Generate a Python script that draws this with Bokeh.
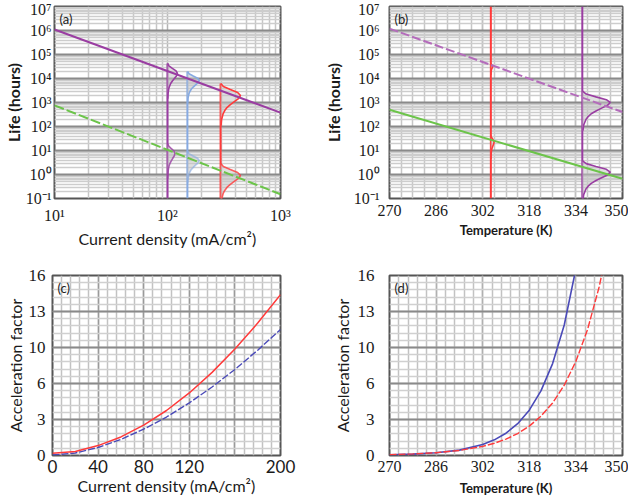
import math
from bokeh.plotting import figure
from bokeh.layouts import column, row
from bokeh.models import FixedTicker, CustomJSTickFormatter, Label, Range1d
from bokeh.embed import file_html
from bokeh.resources import INLINE

# ---------------- data ----------------
A_J = [10, 1000]
A_PURPLE_LIFE = [1.1e6, 380]
A_GREEN_LIFE = [760, 0.15]
A_DIST_J = [100, 100, 150, 150, 295, 295]
A_DIST_MODE = [4.21, 0.875, 3.92, 0.58, 3.29, -0.04]
A_DIST_SPREAD = [0.21, 0.21, 0.185, 0.19, 0.25, 0.25]
A_DIST_PEAK = [0.088, 0.066, 0.105, 0.105, 0.176, 0.176]

B_T = [270, 350]
B_PURPLE_LIFE = [1.2e6, 400]
B_GREEN_LIFE = [500, 0.66]
B_DIST_T = [336.2, 336.2, 304.8, 304.8]
B_DIST_MODE = [3.0, 0.1, 4.5, 1.35]
B_DIST_SPREAD = [0.235, 0.235, 0.07, 0.14]
B_DIST_PEAK = [9.6, 9.6, 0.6, 1.1]

PDF_Z = [2.0, 1.5, 1.0, 0.5, 0.0, -0.5, -1.0, -1.5, -2.0, -2.5, -3.0, -4.0, -5.0]
PDF_D = [0.01, 0.14, 0.49, 0.86, 1.0, 0.90, 0.69, 0.49, 0.32, 0.21, 0.13, 0.05, 0.02]

C_J = [0, 20, 40, 60, 80, 100, 120, 140, 160, 180, 200]
C_RED = [0.2, 0.35, 0.88, 1.65, 2.7, 4.0, 5.56, 7.39, 9.46, 11.77, 14.3]
C_BLUE = [0.05, 0.22, 0.71, 1.43, 2.34, 3.42, 4.68, 6.09, 7.65, 9.36, 11.2]

D_T_BLUE = [270, 278, 286, 294, 302, 306, 310, 314, 318, 322, 326, 330, 334]
D_BLUE = [0.06, 0.12, 0.24, 0.48, 0.98, 1.39, 1.98, 2.83, 4.03, 5.74, 8.17, 11.6, 16.6]
D_T_RED = [270, 278, 286, 294, 302, 306, 310, 314, 318, 322, 326, 330, 334, 338, 342, 346]
D_RED = [0.08, 0.14, 0.25, 0.45, 0.81, 1.09, 1.46, 1.95, 2.61, 3.49, 4.67, 6.25, 8.37, 11.2, 15.0, 20.0]

T_TICKS = [270, 286, 302, 318, 334, 350]
AF_TICKS = [0, 3.2, 6.4, 9.6, 12.8, 16]
J_TICKS = [0, 40, 80, 120, 160, 200]

# ---------------- styles ----------------
PURPLE = "#9a3da2"
PURPLE_L = "#b46cbb"
BLUE_L = "#86aae2"
RED = "#ff3a3a"
GREEN = "#6cc44a"
BLUE_D = "#4a4ab8"
FILL = "#c4c4c4"
TICK_FONT = "Liberation Serif"
LAB_FONT = "Lato"

SUP_JS = """
const s = {"0":"\u2070","1":"\u00b9","2":"\u00b2","3":"\u00b3","4":"\u2074","5":"\u2075","6":"\u2076","7":"\u2077","8":"\u2078","9":"\u2079","-":"\u207b"};
const e = Math.round(Math.log10(tick));
return "10" + String(e).split("").map(c => s[c]).join("");
"""

LOG_Y_MAJOR = [10.0 ** k for k in range(-1, 8)]
LOG_Y_MINOR = [m * 10.0 ** k for k in range(-1, 7) for m in range(2, 10)]
LOG_X_MAJOR = [10.0, 100.0, 1000.0]
LOG_X_MINOR = [m * 10.0 ** k for k in range(1, 3) for m in range(2, 10)]


def make_fig(w, h, xr, yr, xtype, ytype, bl, br, bt, bb):
    p = figure(width=w, height=h, x_range=xr, y_range=yr, x_axis_type=xtype,
               y_axis_type=ytype, output_backend="svg", toolbar_location=None,
               min_border_left=bl, min_border_right=br, min_border_top=bt,
               min_border_bottom=bb)
    p.outline_line_color = "#555555"
    p.outline_line_width = 2
    p.background_fill_color = "white"
    p.border_fill_color = "white"
    for ax in (p.xaxis, p.yaxis):
        ax.axis_line_color = None
        ax.major_tick_line_color = None
        ax.minor_tick_line_color = None
        ax.major_tick_out = 0
        ax.major_tick_in = 0
        ax.minor_tick_out = 0
        ax.minor_tick_in = 0
        ax.major_label_text_font = TICK_FONT
        ax.major_label_text_font_size = "16px"
        ax.major_label_text_color = "#1a1a1a"
        ax.axis_label_text_font = LAB_FONT
        ax.axis_label_text_font_style = "normal"
        ax.axis_label_text_color = "#1a1a1a"
        ax.axis_label_text_font_size = "16px"
    return p


def grid_style(p, xmaj, xmin, ymaj, ymin):
    p.xgrid.grid_line_color = xmaj[0]
    p.xgrid.grid_line_width = xmaj[1]
    p.xgrid.minor_grid_line_color = xmin[0]
    p.xgrid.minor_grid_line_width = xmin[1]
    p.ygrid.grid_line_color = ymaj[0]
    p.ygrid.grid_line_width = ymaj[1]
    p.ygrid.minor_grid_line_color = ymin[0]
    p.ygrid.minor_grid_line_width = ymin[1]


def corner(p, txt, x, y):
    p.add_layout(Label(x=x, y=y, text=txt, x_offset=5, y_offset=-4,
                       text_baseline="top", text_font=LAB_FONT,
                       text_font_size="13px", text_color="#222222"))


def draw_dist(p, x0, mode, spread, peak, color, log_x, alpha=1.0):
    ys = [10 ** (mode + spread * z) for z in PDF_Z]
    if log_x:
        xs = [10 ** (math.log10(x0) + peak * d) for d in PDF_D]
    else:
        xs = [x0 + peak * d for d in PDF_D]
    p.patch([x0] + xs + [x0], [ys[0]] + ys + [ys[-1]], fill_color=FILL,
            fill_alpha=0.55, line_color=None)
    p.line(xs, ys, line_color=color, line_width=1.6, line_alpha=alpha)


# ---------------- (a) ----------------
pa = make_fig(310, 254, Range1d(10, 1000), Range1d(0.1, 1e7), "log", "log", 53, 30, 5, 53)
pa.xaxis.ticker = FixedTicker(ticks=LOG_X_MAJOR, minor_ticks=LOG_X_MINOR)
pa.yaxis.ticker = FixedTicker(ticks=LOG_Y_MAJOR, minor_ticks=LOG_Y_MINOR)
pa.xaxis.formatter = CustomJSTickFormatter(code=SUP_JS)
pa.yaxis.formatter = CustomJSTickFormatter(code=SUP_JS)
pa.xaxis.axis_label = "Current density (mA/cm²)"
pa.yaxis.axis_label = "Life (hours)"
pa.yaxis.axis_label_text_font_style = "bold"
pa.xaxis.major_label_standoff = 8
pa.xaxis.axis_label_standoff = 2
pa.yaxis.major_label_standoff = 3
pa.yaxis.axis_label_standoff = 0
grid_style(pa, ("#b4b4b4", 1.5), ("#c6c6c6", 1.5), ("#8a8a8a", 2), ("#cdcdcd", 1.5))

dist_colors_a = [PURPLE, PURPLE, BLUE_L, BLUE_L, RED, RED]
dist_alpha_a = [1, 0.8, 1, 0.6, 1, 0.8]
for j in sorted(set(A_DIST_J)):
    top = max(A_DIST_MODE[i] + A_DIST_SPREAD[i] * PDF_Z[0]
              for i in range(len(A_DIST_J)) if A_DIST_J[i] == j)
    col = dist_colors_a[A_DIST_J.index(j)]
    pa.segment(x0=[j], y0=[0.1], x1=[j], y1=[10 ** top], line_color=col, line_width=2)
for i in range(len(A_DIST_J)):
    draw_dist(pa, A_DIST_J[i], A_DIST_MODE[i], A_DIST_SPREAD[i], A_DIST_PEAK[i],
              dist_colors_a[i], True, dist_alpha_a[i])
pa.line(A_J, A_PURPLE_LIFE, line_color=PURPLE, line_width=2)
pa.line(A_J, A_GREEN_LIFE, line_color=GREEN, line_width=2, line_dash="10 3")
corner(pa, "(a)", A_J[0], 1e7)

# ---------------- (b) ----------------
pb = make_fig(318, 254, Range1d(270, 350), Range1d(0.1, 1e7), "linear", "log", 79, 6, 6, 56)
pb.xaxis.ticker = FixedTicker(ticks=T_TICKS, minor_ticks=[270 + 4 * i for i in range(21)])
pb.yaxis.ticker = FixedTicker(ticks=LOG_Y_MAJOR, minor_ticks=LOG_Y_MINOR)
pb.yaxis.formatter = CustomJSTickFormatter(code=SUP_JS)
pb.xaxis.axis_label = "Temperature (K)"
pb.yaxis.axis_label = "Life (hours)"
pb.yaxis.axis_label_text_font_style = "bold"
pb.xaxis.axis_label_text_font_style = "bold"
pb.xaxis.axis_label_text_font_size = "13px"
pb.xaxis.major_label_standoff = 6
pb.xaxis.axis_label_standoff = 3
pb.yaxis.major_label_standoff = 10
pb.yaxis.axis_label_standoff = 8
grid_style(pb, ("#c0c0c0", 1.5), ("#c6c6c6", 1.5), ("#8a8a8a", 2), ("#cdcdcd", 1.5))

dist_colors_b = [PURPLE, PURPLE, RED, RED]
for t in sorted(set(B_DIST_T)):
    col = dist_colors_b[B_DIST_T.index(t)]
    pb.segment(x0=[t], y0=[0.1], x1=[t], y1=[1e7], line_color=col, line_width=2)
for i in range(len(B_DIST_T)):
    draw_dist(pb, B_DIST_T[i], B_DIST_MODE[i], B_DIST_SPREAD[i], B_DIST_PEAK[i],
              dist_colors_b[i], False)
pb.line(B_T, B_PURPLE_LIFE, line_color=PURPLE_L, line_width=2, line_dash="9 3")
pb.line(B_T, B_GREEN_LIFE, line_color=GREEN, line_width=2)
corner(pb, "(b)", B_T[0], 1e7)

AF_JS = "return Math.round(tick).toString();"

# ---------------- (c) ----------------
pc = make_fig(310, 244, Range1d(0, 200), Range1d(0, 16), "linear", "linear", 52, 30, 21, 41)
pc.xaxis.ticker = FixedTicker(ticks=J_TICKS, minor_ticks=[8 * i for i in range(26)])
pc.yaxis.ticker = FixedTicker(ticks=AF_TICKS, minor_ticks=[0.64 * i for i in range(26)])
pc.xaxis.formatter = CustomJSTickFormatter(code="return tick == 160 ? '' : tick.toFixed(0);")
pc.yaxis.formatter = CustomJSTickFormatter(code=AF_JS)
pc.xaxis.major_label_text_font = LAB_FONT
pc.xaxis.major_label_text_font_size = "17px"
pc.yaxis.major_label_text_font_size = "17px"
pc.xaxis.axis_label = "Current density (mA/cm²)"
pc.yaxis.axis_label = "Acceleration factor"
pc.xaxis.major_label_standoff = 4
pc.xaxis.axis_label_standoff = 0
pc.yaxis.major_label_standoff = 7
pc.yaxis.axis_label_standoff = 1
grid_style(pc, ("#9a9a9a", 1.5), ("#c2c2c2", 1.5), ("#8a8a8a", 2.2), ("#d0d0d0", 1.6))
pc.line(C_J, C_BLUE, line_color=BLUE_D, line_width=1.4, line_dash="7 2")
pc.line(C_J, C_RED, line_color=RED, line_width=1.5)
corner(pc, "(c)", 0, 16)

# ---------------- (d) ----------------
pd = make_fig(318, 244, Range1d(270, 350), Range1d(0, 16), "linear", "linear", 79, 6, 21, 41)
pd.xaxis.ticker = FixedTicker(ticks=T_TICKS, minor_ticks=[270 + 3.2 * i for i in range(26)])
pd.yaxis.ticker = FixedTicker(ticks=AF_TICKS, minor_ticks=[0.64 * i for i in range(26)])
pd.yaxis.formatter = CustomJSTickFormatter(code=AF_JS)
pd.yaxis.major_label_text_font_size = "17px"
pd.xaxis.axis_label = "Temperature (K)"
pd.xaxis.axis_label_text_font_style = "bold"
pd.xaxis.axis_label_text_font_size = "13px"
pd.yaxis.axis_label = "Acceleration factor"
pd.xaxis.major_label_standoff = 5
pd.xaxis.axis_label_standoff = 5
pd.yaxis.major_label_standoff = 15
pd.yaxis.axis_label_standoff = 3
grid_style(pd, ("#b0b0b0", 1.5), ("#c2c2c2", 1.5), ("#8a8a8a", 2.2), ("#d0d0d0", 1.6))
pd.line(D_T_BLUE, D_BLUE, line_color=BLUE_D, line_width=1.6)
pd.line(D_T_RED, D_RED, line_color=RED, line_width=1.4, line_dash="7 2")
corner(pd, "(d)", 270, 16)

layout = column(row(pa, pb), row(pc, pd))
open("out.html", "w").write(file_html(layout, INLINE))
